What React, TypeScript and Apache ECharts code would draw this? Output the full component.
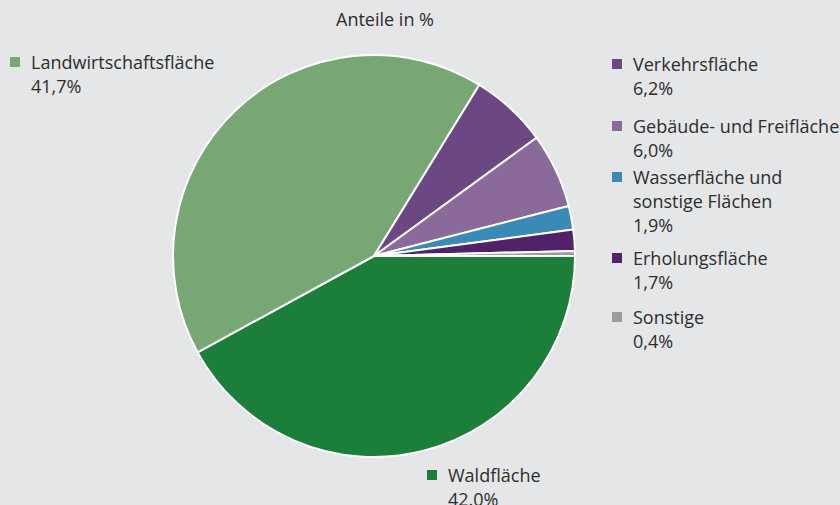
import React, { useEffect, useRef } from "react";
import * as echarts from "echarts";

const titleText = "Anteile in %";
const categories = [
  "Waldfläche",
  "Landwirtschaftsfläche",
  "Verkehrsfläche",
  "Gebäude- und Freifläche",
  "Wasserfläche und\nsonstige Flächen",
  "Erholungsfläche",
  "Sonstige",
];
const values = [42.0, 41.7, 6.2, 6.0, 1.9, 1.7, 0.4];
const valueLabels = ["42.0%", "41,7%", "6,2%", "6,0%", "1,9%", "1,7%", "0,4%"];

const colors = ["#1b7f3a", "#77a874", "#6b4784", "#8a6a9b", "#3a8ab6", "#51216a", "#9c9c9d"];
// label anchor positions (square left, block top)
const labelPos: [number, number][] = [
  [427, 463],
  [10, 50],
  [612, 52],
  [612, 114],
  [612, 165],
  [612, 246],
  [612, 305],
];

const FONT = "'Open Sans', 'Noto Sans', sans-serif";
const TEXT = "#2d2d2d";

export default function App() {
  const ref = useRef<HTMLDivElement>(null);
  useEffect(() => {
    document.body.style.margin = "0";
    const chart = echarts.init(ref.current!, undefined, { renderer: "svg" });
    const data = categories.map((name, i) => {
      const lines = name.split("\n");
      const first = `{sq|}{n|${lines[0]}}`;
      const rest = lines.slice(1).map((l) => `{v|${l}}`);
      const text = [first, ...rest, `{v|${valueLabels[i]}}`].join("\n");
      return {
        name,
        value: values[i],
        itemStyle: { color: colors[i] },
        label: {
          formatter: text,
          rich: {
            sq: { width: 10, height: 10, backgroundColor: colors[i] },
            n: { fontSize: 18, color: TEXT, fontFamily: FONT, padding: [0, 0, 0, 11], lineHeight: 24 },
            v: { fontSize: 18, color: TEXT, fontFamily: FONT, padding: [0, 0, 0, 21], lineHeight: 24 },
          },
        },
      };
    });
    chart.setOption({
      animation: false,
      backgroundColor: "#e5e6e7",
      title: {
        text: titleText,
        left: 380,
        top: 5,
        textAlign: "center",
        textStyle: { fontSize: 18, fontWeight: "normal", color: TEXT, fontFamily: FONT },
      },
      series: [
        {
          type: "pie",
          center: [374, 256],
          radius: 201,
          startAngle: 0,
          clockwise: true,
          avoidLabelOverlap: false,
          minShowLabelAngle: 0,
          itemStyle: { borderColor: "#ffffff", borderWidth: 2 },
          labelLine: { show: false },
          label: { show: true, position: "outside" },
          labelLayout: (params: any) => {
            const p = labelPos[params.dataIndex];
            return { x: p[0], y: p[1], align: "left", verticalAlign: "top", hideOverlap: false };
          },
          data,
        },
      ],
    });
    return () => chart.dispose();
  }, []);
  return <div ref={ref} style={{ width: 840, height: 505, background: "#e5e6e7" }} />;
}
